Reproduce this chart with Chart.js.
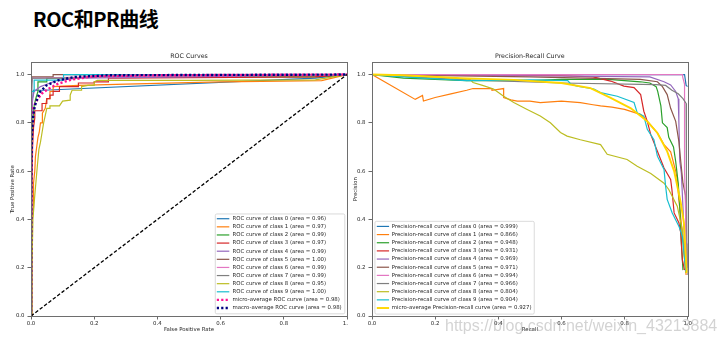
<!DOCTYPE html>
<html><head><meta charset="utf-8">
<script src="https://cdn.jsdelivr.net/npm/chart.js@4.4.0/dist/chart.umd.min.js"></script>
<style>
html,body{margin:0;padding:0;background:#fff;}
body{width:726px;height:345px;position:relative;overflow:hidden;}
#pageTitle{position:absolute;left:33px;top:8.5px;font-family:"Noto Sans CJK SC";font-weight:700;font-size:20px;line-height:20px;letter-spacing:-0.5px;color:#000;white-space:nowrap;}
#roc{position:absolute;left:0;top:0;width:360px;height:345px;}
#pr{position:absolute;left:348px;top:0;width:378px;height:345px;background:#fff;}
#wm{position:absolute;left:445px;top:318px;font-family:"Liberation Sans";font-size:16px;line-height:16px;color:rgba(150,150,150,0.42);white-space:nowrap;pointer-events:none;}
</style></head><body>
<div id="pageTitle">ROC和PR曲线</div>
<canvas id="roc" width="360" height="345"></canvas>
<canvas id="pr" width="378" height="345"></canvas>
<div id="wm">https://blog.csdn.net/weixin_43213884</div>
<script>
// ---------- data ----------
const tickValues = [0, 0.2, 0.4, 0.6, 0.8, 1.0];
const tickLabels = ['0.0', '0.2', '0.4', '0.6', '0.8', '1.0'];

const rocAreas = ['0.96','0.97','0.99','0.97','0.99','1.00','0.99','0.99','0.95','1.00'];
const rocMicroArea = '0.98';
const rocMacroArea = '0.98';
const prAreas = ['0.999','0.866','0.948','0.931','0.969','0.971','0.994','0.966','0.804','0.904'];
const prMicroArea = '0.927';

// ROC curves: [false positive rate, true positive rate]
const rocClass0 = [[0,0],[0,0.5],[0.002,0.8],[0.005,0.9],[0.008,0.935],[0.04,0.935],[0.9,0.985],[1,1]];
const rocClass1 = [[0,0],[0.002,0],[0.002,0.23],[0.004,0.28],[0.004,0.4],[0.008,0.45],[0.008,0.55],[0.012,0.6],[0.014,0.66],[0.018,0.7],[0.022,0.74],[0.026,0.76],[0.03,0.8],[0.036,0.8],[0.036,0.84],[0.045,0.86],[0.05,0.9],[0.06,0.9],[0.06,0.93],[0.07,0.93],[0.07,0.95],[0.15,0.955],[0.3,0.96],[0.6,0.97],[0.92,0.975],[1,1]];
const rocClass2 = [[0,0],[0.002,0.6],[0.005,0.8],[0.01,0.87],[0.015,0.9],[0.022,0.93],[0.022,0.97],[0.05,0.97],[0.05,0.985],[0.3,0.99],[0.9,0.99],[1,1]];
const rocClass3 = [[0,0],[0.003,0.5],[0.005,0.7],[0.008,0.78],[0.012,0.82],[0.012,0.85],[0.035,0.85],[0.035,0.88],[0.05,0.88],[0.05,0.9],[0.06,0.9],[0.06,0.915],[0.07,0.915],[0.07,0.93],[0.09,0.93],[0.09,0.95],[0.15,0.95],[0.15,0.965],[0.2,0.965],[0.2,0.97],[0.245,0.97],[0.245,0.985],[0.9,0.99],[1,1]];
const rocClass4 = [[0,0],[0.002,0.8],[0.005,0.9],[0.01,0.93],[0.03,0.95],[0.05,0.96],[0.08,0.975],[0.15,0.985],[0.5,0.99],[1,1]];
const rocClass5 = [[0,0],[0,0.97],[0.004,0.99],[0.07,0.99],[0.07,1],[1,1]];
const rocClass6 = [[0,0],[0.001,0.9],[0.003,0.96],[0.005,0.985],[0.2,0.99],[0.6,0.995],[1,1]];
const rocClass7 = [[0,0],[0.001,0.9],[0.004,0.985],[0.155,0.985],[0.155,1],[1,1]];
const rocClass8 = [[0,0],[0.003,0.2],[0.006,0.4],[0.012,0.5],[0.016,0.56],[0.02,0.62],[0.025,0.69],[0.03,0.72],[0.035,0.76],[0.04,0.8],[0.045,0.83],[0.05,0.86],[0.06,0.86],[0.06,0.87],[0.09,0.87],[0.1,0.89],[0.124,0.894],[0.124,0.915],[0.13,0.935],[0.16,0.935],[0.16,0.95],[0.18,0.955],[0.2,0.955],[0.2,0.97],[0.21,0.976],[0.5,0.976],[0.9,0.978],[1,1]];
const rocClass9 = [[0,0],[0,0.93],[0.01,0.93],[0.01,0.977],[0.103,0.977],[0.103,1],[1,1]];
const rocMicro = [[0,0],[0.001,0.5],[0.002,0.7],[0.004,0.8],[0.006,0.85],[0.01,0.87],[0.017,0.89],[0.033,0.92],[0.054,0.94],[0.086,0.962],[0.128,0.979],[0.2,0.993],[0.4,0.997],[1,1]];
const rocMacro = [[0,0],[0.001,0.6],[0.003,0.75],[0.007,0.83],[0.012,0.87],[0.02,0.9],[0.028,0.927],[0.049,0.955],[0.086,0.976],[0.139,0.99],[0.244,0.997],[1,1]];
const rocChance = [[0,0],[1,1]];

// Precision-recall curves: [recall, precision]
const prClass0 = [[0,1],[0.99,1],[0.995,0.955],[1,0.95]];
const prClass1 = [[0,1],[0.137,0.897],[0.16,0.913],[0.163,0.89],[0.2,0.905],[0.25,0.92],[0.3,0.935],[0.32,0.942],[0.38,0.942],[0.38,0.935],[0.417,0.942],[0.417,0.905],[0.44,0.895],[0.46,0.89],[0.5,0.89],[0.533,0.884],[0.6,0.89],[0.66,0.884],[0.7,0.875],[0.724,0.87],[0.76,0.865],[0.8,0.856],[0.85,0.835],[0.87,0.81],[0.883,0.79],[0.904,0.758],[0.925,0.71],[0.946,0.68],[0.962,0.6],[0.967,0.566],[0.972,0.483],[0.983,0.344],[0.988,0.26],[0.995,0.17]];
const prClass2 = [[0,1],[0.1,0.985],[0.3,0.975],[0.5,0.975],[0.6,0.98],[0.75,0.98],[0.85,0.97],[0.88,0.965],[0.9,0.95],[0.905,0.93],[0.915,0.87],[0.92,0.8],[0.935,0.78],[0.94,0.74],[0.955,0.7],[0.962,0.64],[0.97,0.55],[0.975,0.45],[0.98,0.3],[0.985,0.19]];
const prClass3 = [[0,1],[0.6,0.995],[0.7,0.99],[0.756,0.973],[0.798,0.952],[0.83,0.946],[0.851,0.917],[0.861,0.848],[0.872,0.806],[0.883,0.751],[0.904,0.682],[0.925,0.613],[0.946,0.566],[0.95,0.524],[0.957,0.427],[0.972,0.386],[0.978,0.344],[0.983,0.233],[0.99,0.19]];
const prClass4 = [[0,1],[0.5,0.995],[0.88,0.99],[0.925,0.97],[0.946,0.957],[0.962,0.93],[0.97,0.9],[0.972,0.806],[0.975,0.64],[0.98,0.59],[0.985,0.45],[0.99,0.3],[0.995,0.2]];
const prClass5 = [[0,1],[0.5,0.99],[0.85,0.98],[0.904,0.97],[0.92,0.95],[0.935,0.917],[0.946,0.86],[0.962,0.806],[0.972,0.723],[0.978,0.64],[0.985,0.55],[0.993,0.5],[0.996,0.3],[1,0.2]];
const prClass6 = [[0,1],[0.984,1],[0.984,0.99],[0.99,0.96],[0.99,0.6],[0.993,0.45],[0.994,0.36],[1,0.2]];
const prClass7 = [[0,1],[0.3,0.978],[0.6,0.965],[0.9,0.958],[0.93,0.955],[0.95,0.935],[0.97,0.92],[0.985,0.9],[0.995,0.88],[0.996,0.6],[0.998,0.3],[1,0.17]];
const prClass8 = [[0,1],[0.1,0.995],[0.2,0.99],[0.31,0.98],[0.32,0.967],[0.35,0.955],[0.385,0.94],[0.417,0.91],[0.449,0.884],[0.49,0.856],[0.533,0.828],[0.565,0.8],[0.597,0.76],[0.618,0.745],[0.66,0.73],[0.724,0.71],[0.745,0.67],[0.808,0.648],[0.84,0.62],[0.883,0.59],[0.925,0.55],[0.94,0.524],[0.967,0.455],[0.983,0.357],[0.994,0.178]];
const prClass9 = [[0,1],[0.1,0.99],[0.3,0.975],[0.5,0.978],[0.62,0.975],[0.63,0.96],[0.65,0.952],[0.703,0.94],[0.724,0.925],[0.777,0.91],[0.83,0.884],[0.84,0.842],[0.861,0.828],[0.872,0.773],[0.893,0.73],[0.904,0.662],[0.925,0.607],[0.93,0.538],[0.935,0.483],[0.951,0.427],[0.972,0.372],[0.983,0.33],[0.994,0.185]];
const prMicro = [[0,1],[0.1,0.997],[0.28,0.985],[0.45,0.978],[0.6,0.965],[0.692,0.944],[0.756,0.903],[0.82,0.86],[0.872,0.806],[0.904,0.758],[0.935,0.682],[0.957,0.6],[0.97,0.52],[0.978,0.469],[0.988,0.386],[0.997,0.178]];

const rocClasses = [rocClass0,rocClass1,rocClass2,rocClass3,rocClass4,rocClass5,rocClass6,rocClass7,rocClass8,rocClass9];
const prClasses = [prClass0,prClass1,prClass2,prClass3,prClass4,prClass5,prClass6,prClass7,prClass8,prClass9];

// ---------- styling ----------
const tab10 = ['#1f77b4','#ff7f0e','#2ca02c','#d62728','#9467bd','#8c564b','#e377c2','#7f7f7f','#bcbd22','#17becf'];
const FONT = '"DejaVu Sans", sans-serif';
const TXT = '#262626';

function toXY(arr){ return arr.map(p => ({x: p[0], y: p[1]})); }
function lineDs(label, data, color, width, dash, order){
  return {label, data: toXY(data), showLine: true, borderColor: color, backgroundColor: color,
    borderWidth: width, borderDash: dash || [], pointRadius: 0, pointHoverRadius: 0, pointHitRadius: 0,
    fill: false, tension: 0, order, borderCapStyle: 'butt', borderJoinStyle: 'miter'};
}
function axis(c){
  return {
    type: 'linear', position: c.position, min: c.min, max: c.max,
    afterBuildTicks: s => { s.ticks = tickValues.map(v => ({value: v})); },
    ticks: {callback: (v, i) => tickLabels[i], font: {family: FONT, size: 5.4}, color: TXT,
      padding: c.tickPad, maxRotation: 0, minRotation: 0, autoSkip: false},
    grid: {drawOnChartArea: false, drawTicks: true, tickLength: 3.5, tickWidth: 0.8, color: '#444'},
    border: {display: false},
    title: {display: true, text: c.title, font: {family: FONT, size: 5.4}, color: TXT, padding: c.titlePad},
    afterFit: s => { if (s.isHorizontal()) s.height = c.size; else s.width = c.size; }
  };
}

const framePlugin = {
  id: 'frame',
  afterDatasetsDraw(chart){
    const a = chart.chartArea, ctx = chart.ctx;
    ctx.save();
    ctx.strokeStyle = '#6e6e6e'; ctx.lineWidth = 1; ctx.setLineDash([]);
    ctx.strokeRect(Math.round(a.left) + 0.5, Math.round(a.top) + 0.5,
      Math.round(a.right) - Math.round(a.left), Math.round(a.bottom) - Math.round(a.top));
    ctx.restore();
  }
};

const insideLegend = {
  id: 'insideLegend',
  afterDraw(chart, args, o){
    const ctx = chart.ctx, a = chart.chartArea;
    const items = chart.data.datasets.filter(d => d.label);
    ctx.save();
    ctx.font = o.fontSize + 'px ' + FONT;
    const maxW = Math.max(...items.map(d => ctx.measureText(d.label).width));
    const w = o.textX + maxW + o.padRight;
    const h = items.length * o.rowH + 2 * o.pad;
    const x = o.corner === 'lower right' ? a.right - o.margin - w : a.left + o.margin;
    const y = a.bottom - o.margin - h;
    ctx.beginPath();
    if (ctx.roundRect) ctx.roundRect(x + 0.5, y + 0.5, w, h, 1.5); else ctx.rect(x + 0.5, y + 0.5, w, h);
    ctx.fillStyle = 'rgba(255,255,255,0.8)'; ctx.fill();
    ctx.strokeStyle = '#d0d0d0'; ctx.lineWidth = 0.8; ctx.stroke();
    items.forEach((d, i) => {
      const cy = y + o.pad + o.rowH * (i + 0.5);
      ctx.beginPath();
      ctx.strokeStyle = d.borderColor; ctx.lineWidth = d.borderWidth;
      ctx.setLineDash(d.borderDash || []); ctx.lineCap = 'butt';
      ctx.moveTo(x + o.lineX0, cy); ctx.lineTo(x + o.lineX1, cy); ctx.stroke();
      ctx.setLineDash([]);
      ctx.fillStyle = TXT; ctx.textBaseline = 'middle'; ctx.textAlign = 'left';
      ctx.fillText(d.label, x + o.textX, cy);
    });
    ctx.restore();
  }
};

function baseOptions(title, legendOpts, padRight, xAxis, yAxis){
  return {
    responsive: false, animation: false, devicePixelRatio: 1, events: [],
    layout: {padding: {left: 0, right: padRight, top: 0, bottom: 0}},
    plugins: {
      legend: {display: false}, tooltip: {enabled: false},
      title: {display: true, text: title, fullSize: false, color: TXT,
        font: {family: FONT, size: 6.3, weight: 'normal'}, padding: {top: 53, bottom: 1.9}},
      insideLegend: legendOpts
    },
    scales: {x: xAxis, y: yAxis}
  };
}

// ---------- ROC chart ----------
const rocDatasets = rocClasses.map((d, i) =>
  lineDs('ROC curve of class ' + i + ' (area = ' + rocAreas[i] + ')', d, tab10[i], 1.2, [], -i));
rocDatasets.push(lineDs('micro-average ROC curve (area = ' + rocMicroArea + ')', rocMicro, '#ff1493', 2.4, [2.2, 2.2], -10));
rocDatasets.push(lineDs('macro-average ROC curve (area = ' + rocMacroArea + ')', rocMacro, '#000080', 2.4, [2.2, 2.2], -11));
rocDatasets.push(lineDs(undefined, rocChance, '#000000', 1.3, [3.5, 2], -12));

new Chart(document.getElementById('roc'), {
  type: 'scatter',
  data: {datasets: rocDatasets},
  options: baseOptions('ROC Curves',
    {corner: 'lower right', margin: 2.7, rowH: 8.12, pad: 1.2, lineX0: 2, lineX1: 14.5, textX: 17.7, padRight: 2.6, fontSize: 5.4},
    13,
    axis({position: 'bottom', min: 0, max: 1, tickPad: 0.5, title: 'False Positive Rate', titlePad: {top: 0, bottom: 11.8}, size: 29}),
    axis({position: 'left', min: 0, max: 1.05, tickPad: 3, title: 'True Positive Rate', titlePad: {top: 9.3, bottom: 0}, size: 31})),
  plugins: [framePlugin, insideLegend]
});

// ---------- Precision-Recall chart ----------
const prDatasets = prClasses.map((d, i) =>
  lineDs('Precision-recall curve of class ' + i + ' (area = ' + prAreas[i] + ')', d, tab10[i], 1.2, [], -i));
prDatasets.push(lineDs('micro-average Precision-recall curve (area = ' + prMicroArea + ')', prMicro, '#ffd700', 1.9, [], -10));

new Chart(document.getElementById('pr'), {
  type: 'scatter',
  data: {datasets: prDatasets},
  options: baseOptions('Precision-Recall Curve',
    {corner: 'lower left', margin: 2.4, rowH: 8.16, pad: 1.5, lineX0: 2.4, lineX1: 14.7, textX: 17.4, padRight: 2.2, fontSize: 5.4},
    38.3,
    axis({position: 'bottom', min: 0, max: 1, tickPad: 0.5, title: 'Recall', titlePad: {top: 0, bottom: 11.8}, size: 29}),
    axis({position: 'left', min: 0, max: 1.05, tickPad: 3, title: 'Precision', titlePad: {top: 4.3, bottom: 0}, size: 24})),
  plugins: [framePlugin, insideLegend]
});
</script>
</body></html>
